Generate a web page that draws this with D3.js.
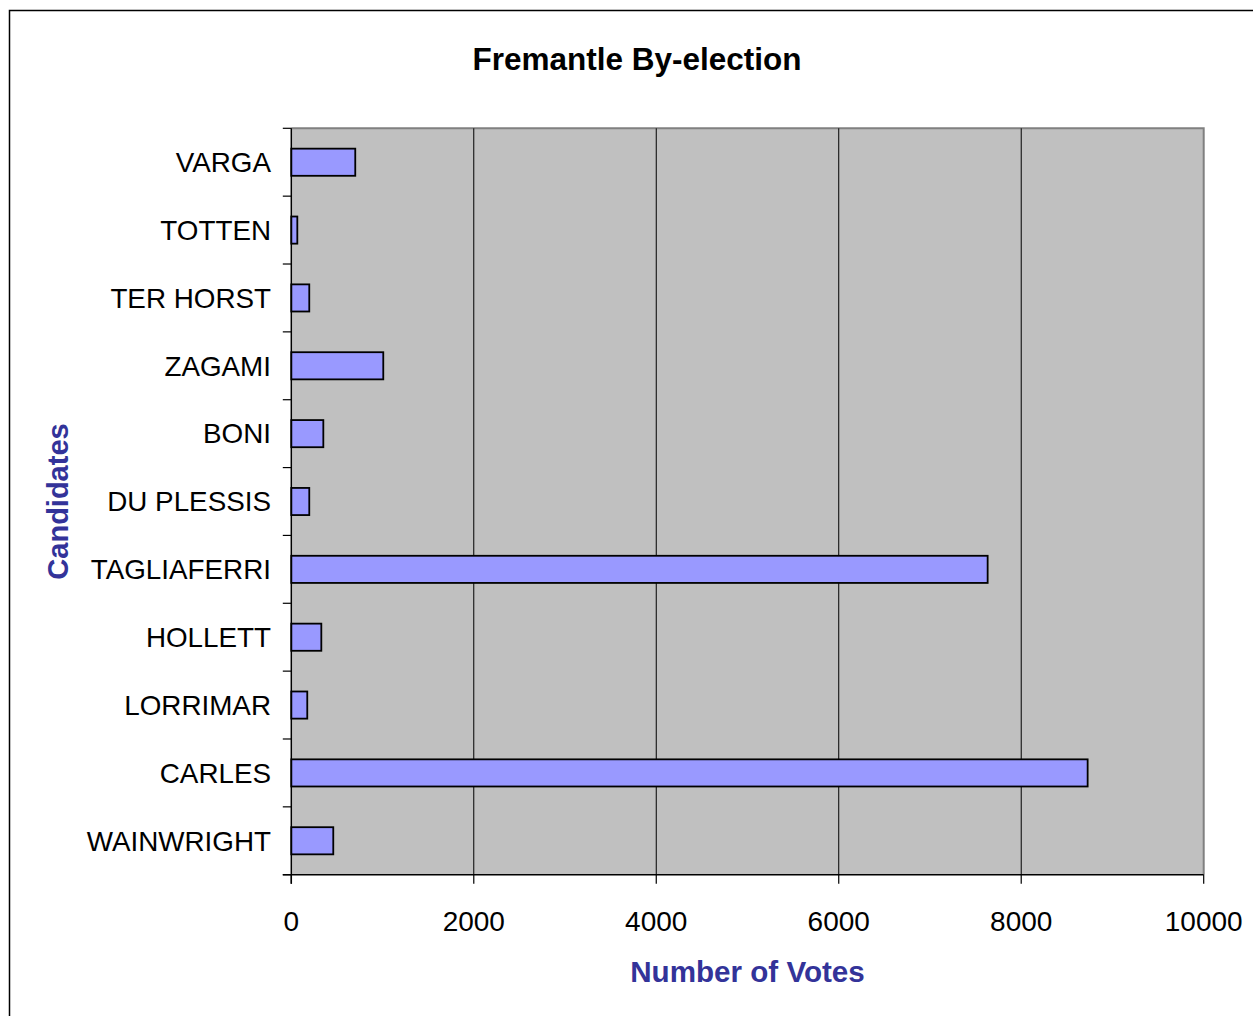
<!DOCTYPE html>
<html><head><meta charset="utf-8">
<script src="https://cdn.jsdelivr.net/npm/d3@7"></script>
<style>
html,body{margin:0;padding:0;background:#fff;}
svg{display:block;font-family:Arial,"Liberation Sans",sans-serif;}
</style></head>
<body>
<svg id="chart" width="1253" height="1016"></svg>
<script>
const candidates = ["VARGA","TOTTEN","TER HORST","ZAGAMI","BONI","DU PLESSIS","TAGLIAFERRI","HOLLETT","LORRIMAR","CARLES","WAINWRIGHT"];
const votes = [701, 66, 197, 1008, 351, 197, 7632, 329, 175, 8728, 460];
const xTicks = [0, 2000, 4000, 6000, 8000, 10000];
const titleText = "Fremantle By-election";
const xTitle = "Number of Votes";
const yTitle = "Candidates";

const svg = d3.select("#chart");
const L = 291.3, R = 1203.7, T = 128.3, B = 874.7;

// outer frame
svg.append("rect").attr("x",9.5).attr("y",10.5).attr("width",1400).attr("height",1200)
  .attr("fill","#fff").attr("stroke","#000").attr("stroke-width",1.5);

const x = d3.scaleLinear().domain([0,10000]).range([L,R]);
const y = d3.scaleBand().domain(candidates).range([T,B]).paddingInner(0.6).paddingOuter(0.3);
const yb = d3.scaleBand().domain(candidates).range([T,B]);

// plot background
svg.append("rect").attr("x",L).attr("y",T).attr("width",R-L).attr("height",B-T)
  .attr("fill","#C0C0C0");
// top & right border (gray)
svg.append("path").attr("d",`M${L},${T}H${R}V${B}`).attr("fill","none")
  .attr("stroke","#808080").attr("stroke-width",2);

// gridlines
svg.append("g").selectAll("line").data(xTicks.filter(d=>d>0 && d<10000)).join("line")
  .attr("x1",d=>x(d)).attr("x2",d=>x(d)).attr("y1",T).attr("y2",B)
  .attr("stroke","#000").attr("stroke-width",1);

// bars
svg.append("g").selectAll("rect").data(candidates).join("rect")
  .attr("x",x(0)).attr("y",d=>y(d))
  .attr("width",(d,i)=>x(votes[i])-x(0)).attr("height",y.bandwidth())
  .attr("fill","#9999FF").attr("stroke","#000").attr("stroke-width",1.8);

// y axis line & ticks
const yBounds = candidates.map(d=>yb(d)).concat([B]);
svg.append("line").attr("x1",L).attr("x2",L).attr("y1",T).attr("y2",B+9)
  .attr("stroke","#000").attr("stroke-width",1.5);
svg.append("g").selectAll("line").data(yBounds).join("line")
  .attr("x1",L-8.5).attr("x2",L).attr("y1",d=>d).attr("y2",d=>d)
  .attr("stroke","#000").attr("stroke-width",1.2);

// x axis line & ticks
svg.append("line").attr("x1",L-8.5).attr("x2",R).attr("y1",B).attr("y2",B)
  .attr("stroke","#000").attr("stroke-width",1.5);
svg.append("g").selectAll("line").data(xTicks).join("line")
  .attr("x1",d=>x(d)).attr("x2",d=>x(d)).attr("y1",B).attr("y2",B+9)
  .attr("stroke","#000").attr("stroke-width",1.2);

// category labels
svg.append("g").selectAll("text").data(candidates).join("text")
  .attr("x",271).attr("y",d=>yb(d)+yb.bandwidth()/2+9.8)
  .attr("text-anchor","end").attr("font-size",27.8).attr("fill","#000").text(d=>d);

// x tick labels
svg.append("g").selectAll("text").data(xTicks).join("text")
  .attr("x",d=>x(d)).attr("y",930.5)
  .attr("text-anchor","middle").attr("font-size",28).attr("fill","#000").text(d=>d);

// titles
svg.append("text").attr("x",637).attr("y",69.5).attr("text-anchor","middle")
  .attr("font-size",31.5).attr("font-weight","bold").attr("fill","#000").text(titleText);
svg.append("text").attr("x",(L+R)/2).attr("y",981.5).attr("text-anchor","middle")
  .attr("font-size",29.6).attr("font-weight","bold").attr("fill","#333399").text(xTitle);
svg.append("text").attr("transform",`translate(68,${(T+B)/2}) rotate(-90)`)
  .attr("text-anchor","middle").attr("font-size",29).attr("font-weight","bold")
  .attr("fill","#333399").text(yTitle);
</script>
</body></html>
